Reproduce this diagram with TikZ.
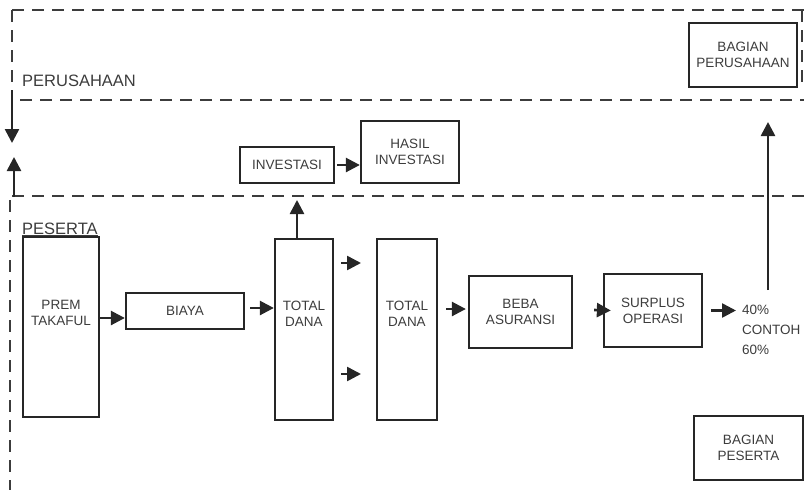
\documentclass[tikz,border=0pt]{standalone}
\usepackage{fontspec}
\setmainfont{Liberation Sans}
\usetikzlibrary{arrows.meta}
\definecolor{ink}{HTML}{262626}
\tikzset{
  box/.style={draw=ink, line width=2.3pt, inner sep=0pt, align=center, font=\fontsize{13.5}{16}\selectfont, text=ink!90},
  lbl/.style={inner sep=0pt, align=center, font=\fontsize{13.5}{16}\selectfont, text=ink!90},
  arr/.style={draw=ink, line width=2.6pt, -{Triangle[length=14pt,width=14pt]}},
  zoneline/.style={draw=ink!90, line width=2.3pt, dash pattern=on 12pt off 8pt}
}
\begin{document}
\begin{tikzpicture}[x=1pt,y=-1pt]
\useasboundingbox (0,0) rectangle (804,490);
% dashed zone lines
\draw[zoneline] (12,10) -- (804,10);
\draw[zoneline] (12,10) -- (12,86);
\draw[zoneline] (802,10) -- (802,88);
\draw[zoneline] (20,100) -- (804,100);
\draw[zoneline] (12,196) -- (804,196);
\draw[zoneline] (10,200) -- (10,490);
% zone labels
\node[anchor=base west, inner sep=0pt, font=\fontsize{16.5}{19}\selectfont, text=ink!90] (perus) at (22,86) {PERUSAHAAN};
\node[anchor=base west, inner sep=0pt, font=\fontsize{16.5}{19}\selectfont, text=ink!90] (pesertalbl) at (22,234) {\underline{PESERTA}};
% boxes
\node[box, minimum width=108pt, minimum height=64pt] (bp) at (743,55) {BAGIAN\\PERUSAHAAN};
\node[box, minimum width=94pt, minimum height=36pt] (inv) at (287,165) {INVESTASI};
\node[box, minimum width=98pt, minimum height=62pt] (hasil) at (410,152) {HASIL\\INVESTASI};
\node[box, minimum width=76pt, minimum height=180pt] (prem) at (61,327) {};
\node[lbl] (premt) at (61,313) {PREM\\TAKAFUL};
\node[box, minimum width=118pt, minimum height=36pt] (biaya) at (185,311) {BIAYA};
\node[box, minimum width=58pt, minimum height=181pt] (tda) at (304,329.5) {};
\node[lbl] (tdat) at (304,314) {TOTAL\\DANA};
\node[box, minimum width=60pt, minimum height=181pt] (tdb) at (407,329.5) {};
\node[lbl] (tdbt) at (407,314) {TOTAL\\DANA};
\node[box, minimum width=103pt, minimum height=72pt] (beba) at (520.5,312) {BEBA\\ASURANSI};
\node[box, minimum width=98pt, minimum height=73pt] (surplus) at (653,310.5) {SURPLUS\\OPERASI};
\node[box, minimum width=109pt, minimum height=64pt] (bps) at (748.5,448) {BAGIAN\\PESERTA};
\node[anchor=west, inner sep=0pt, align=left, font=\fontsize{13.5}{20}\selectfont, text=ink!90] (pct) at (742,330) {40\%\\CONTOH\\60\%};
% coordinates for free ends
\coordinate (ldown0) at (12,90);
\coordinate (ldown1) at (12,143);
\coordinate (lup0) at (14,197);
\coordinate (lup1) at (14,157);
\coordinate (invin) at (297,200);
\coordinate (fa0) at (341,263);
\coordinate (fa1) at (361,263);
\coordinate (fb0) at (341,374);
\coordinate (fb1) at (361,374);
\coordinate (up0) at (768,290);
\coordinate (up1) at (768,122);
% arrows
\draw[arr] (ldown0) -- (ldown1);
\draw[arr] (lup0) -- (lup1);
\draw[arr] ([yshift=9pt]prem.east) -- ([yshift=9pt]prem.east -| biaya.west);
\draw[arr] ([xshift=5pt,yshift=3pt]biaya.east) -- ([yshift=3pt]biaya.east -| tda.west);
\draw[arr] (tda.north -| invin) -- (invin);
\draw[arr] ([xshift=2pt]inv.east) -- (inv.east -| hasil.west);
\draw[arr] (fa0) -- (fa1);
\draw[arr] (fb0) -- (fb1);
\draw[arr] ([xshift=8pt,yshift=3pt]tdb.east |- beba.west) -- ([xshift=-2pt,yshift=3pt]beba.west);
\draw[arr] ([xshift=21pt,yshift=2pt]beba.east) -- ([xshift=8pt]surplus.west);
\draw[arr] ([xshift=8pt]surplus.east) -- ([xshift=-6pt]surplus.east -| pct.west);
\draw[arr] (up0) -- (up1);
\end{tikzpicture}
\end{document}
